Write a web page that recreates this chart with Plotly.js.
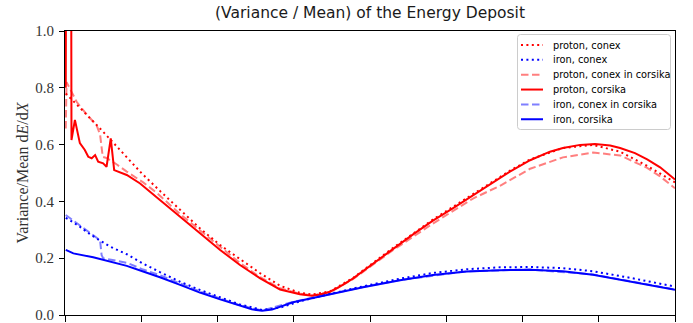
<!DOCTYPE html>
<html>
<head>
<meta charset="utf-8">
<script src="https://cdn.plot.ly/plotly-3.0.1.min.js"></script>
<style>
  html, body { margin: 0; padding: 0; background: #fff; }
  #chart { width: 693px; height: 323px; }
</style>
</head>
<body>
<div id="chart"></div>
<script>
// Slant depth X (g/cm^2) and variance/mean of dE/dX for each simulation setup.

const depthProtonConex = [2, 9, 39, 96, 149, 201, 249, 302, 354, 407, 459, 512, 564, 616, 648, 695, 755, 860, 965, 1070, 1167, 1220, 1306, 1385, 1456, 1527, 1600];
const ratioProtonConex = [0.780, 0.771, 0.730, 0.651, 0.575, 0.499, 0.437, 0.370, 0.305, 0.246, 0.196, 0.147, 0.103, 0.078, 0.072, 0.083, 0.130, 0.236, 0.336, 0.424, 0.508, 0.548, 0.588, 0.599, 0.575, 0.525, 0.467];

const depthIronConex = [2, 9, 39, 66, 92, 118, 162, 205, 249, 302, 354, 407, 459, 517, 564, 616, 687, 782, 879, 965, 1054, 1141, 1220, 1306, 1385, 1482, 1600];
const ratioIronConex = [0.342, 0.337, 0.311, 0.284, 0.262, 0.241, 0.214, 0.181, 0.151, 0.117, 0.088, 0.062, 0.037, 0.018, 0.026, 0.048, 0.072, 0.101, 0.128, 0.148, 0.161, 0.168, 0.169, 0.165, 0.154, 0.131, 0.100];

const depthProtonConexInCorsika = [2, 4, 31, 57, 83, 92, 99, 109, 136, 162, 205, 241, 302, 354, 407, 459, 512, 564, 616, 648, 695, 755, 860, 965, 1070, 1141, 1220, 1306, 1385, 1456, 1527, 1561, 1600];
const ratioProtonConexInCorsika = [0.657, 0.820, 0.750, 0.706, 0.668, 0.636, 0.557, 0.553, 0.530, 0.505, 0.467, 0.430, 0.355, 0.297, 0.238, 0.183, 0.133, 0.094, 0.075, 0.069, 0.080, 0.126, 0.228, 0.322, 0.410, 0.455, 0.515, 0.555, 0.572, 0.562, 0.518, 0.488, 0.446];

const depthProtonCorsika = [2, 10, 17, 26, 39, 52, 61, 70, 79, 87, 100, 109, 120, 129, 162, 197, 249, 302, 354, 407, 459, 512, 564, 616, 648, 669, 695, 721, 755, 808, 860, 913, 965, 1018, 1070, 1115, 1167, 1220, 1272, 1306, 1351, 1390, 1430, 1456, 1495, 1527, 1561, 1600];
const ratioProtonCorsika = [0.800, 6.000, 0.616, 0.687, 0.605, 0.581, 0.557, 0.552, 0.563, 0.540, 0.534, 0.522, 0.622, 0.510, 0.493, 0.463, 0.405, 0.346, 0.288, 0.229, 0.176, 0.129, 0.090, 0.073, 0.068, 0.072, 0.082, 0.100, 0.128, 0.182, 0.232, 0.284, 0.332, 0.376, 0.420, 0.458, 0.505, 0.545, 0.575, 0.588, 0.599, 0.602, 0.597, 0.588, 0.570, 0.548, 0.520, 0.477];

const depthIronConexInCorsika = [2, 39, 92, 96, 100, 162, 205, 249, 302, 354, 407, 459, 517, 598, 687, 782, 879, 1054, 1220, 1385, 1482, 1600];
const ratioIronConexInCorsika = [0.352, 0.316, 0.263, 0.211, 0.200, 0.184, 0.160, 0.140, 0.110, 0.083, 0.058, 0.034, 0.016, 0.046, 0.071, 0.099, 0.123, 0.154, 0.160, 0.143, 0.119, 0.090];

const depthIronCorsika = [2, 22, 74, 118, 162, 205, 249, 302, 354, 407, 459, 490, 517, 543, 598, 643, 687, 734, 782, 879, 965, 1054, 1141, 1220, 1306, 1385, 1482, 1600];
const ratioIronCorsika = [0.229, 0.217, 0.203, 0.188, 0.173, 0.153, 0.133, 0.106, 0.079, 0.055, 0.032, 0.020, 0.015, 0.019, 0.045, 0.058, 0.070, 0.084, 0.098, 0.122, 0.141, 0.153, 0.158, 0.159, 0.154, 0.142, 0.118, 0.089];

const seriesNames = ['proton, conex', 'iron, conex', 'proton, conex in corsika', 'proton, corsika', 'iron, conex in corsika', 'iron, corsika'];
const xTicks = [0, 200, 400, 600, 800, 1000, 1200, 1400, 1600];
const yTicks = [0.0, 0.2, 0.4, 0.6, 0.8, 1.0];

// line styles
const DOT = '2px,3.4px';
const DASH = '7.5px,3.5px';
const RED = '#ff0000', BLUE = '#0000ff';
const RED_A = 'rgba(255,0,0,0.5)', BLUE_A = 'rgba(0,0,255,0.5)';

const styles = [
  {color: RED, dash: DOT},
  {color: BLUE, dash: DOT},
  {color: RED_A, dash: DASH},
  {color: RED, dash: 'solid'},
  {color: BLUE_A, dash: DASH},
  {color: BLUE, dash: 'solid'}
];

const xs = [depthProtonConex, depthIronConex, depthProtonConexInCorsika, depthProtonCorsika, depthIronConexInCorsika, depthIronCorsika];
const ys = [ratioProtonConex, ratioIronConex, ratioProtonConexInCorsika, ratioProtonCorsika, ratioIronConexInCorsika, ratioIronCorsika];

const traces = seriesNames.map((name, i) => ({
  type: 'scatter',
  mode: 'lines',
  name: name,
  x: xs[i],
  y: ys[i],
  line: {color: styles[i].color, dash: styles[i].dash, width: 2},
  showlegend: false,
  hoverinfo: 'skip'
}));

// plot-area geometry (pixels) used for the hand-built legend box
const W = 693, H = 323;
const M = {l: 65, r: 18, t: 31, b: 8};
const PW = W - M.l - M.r, PH = H - M.t - M.b;
const px = v => (v - M.l) / PW;           // pixel x -> paper x
const py = v => (H - M.b - v) / PH;       // pixel y -> paper y

function roundedBox(x0, y0, x1, y1, r) {
  const rx = r / PW, ry = r / PH;
  const X0 = px(x0), X1 = px(x1), Y0 = py(y0), Y1 = py(y1); // Y0 top, Y1 bottom
  return `M ${X0 + rx},${Y0} L ${X1 - rx},${Y0} Q ${X1},${Y0} ${X1},${Y0 - ry} ` +
         `L ${X1},${Y1 + ry} Q ${X1},${Y1} ${X1 - rx},${Y1} L ${X0 + rx},${Y1} ` +
         `Q ${X0},${Y1} ${X0},${Y1 + ry} L ${X0},${Y0 - ry} Q ${X0},${Y0} ${X0 + rx},${Y0} Z`;
}

const shapes = [{
  type: 'path', xref: 'paper', yref: 'paper', layer: 'above',
  path: roundedBox(517.5, 34.5, 670.5, 129.5, 3),
  fillcolor: 'rgba(255,255,255,0.8)',
  line: {color: '#cccccc', width: 1}
}];
const annotations = [];
const rowY0 = 45, rowStep = 14.85;
seriesNames.forEach((name, i) => {
  const yy = py(rowY0 + i * rowStep);
  shapes.push({
    type: 'line', xref: 'paper', yref: 'paper', layer: 'above',
    x0: px(521), x1: px(543), y0: yy, y1: yy,
    line: {color: styles[i].color, dash: styles[i].dash, width: 2}
  });
  annotations.push({
    xref: 'paper', yref: 'paper', x: px(550.5), y: yy,
    xanchor: 'left', yanchor: 'middle', showarrow: false,
    text: name,
    font: {family: 'DejaVu Sans', size: 9.8, color: '#000'}
  });
});

const layout = {
  width: W, height: H,
  margin: {l: M.l, r: M.r, t: M.t, b: M.b, pad: 0},
  paper_bgcolor: '#fff', plot_bgcolor: '#fff',
  title: {
    text: '(Variance / Mean) of the Energy Deposit',
    font: {family: 'DejaVu Sans', size: 15.5, color: '#1a1a1a'},
    x: 0.5, xref: 'paper', xanchor: 'center',
    y: 1 - 12.5 / H, yref: 'container', yanchor: 'middle'
  },
  xaxis: {
    range: [xTicks[0], xTicks[xTicks.length - 1]],
    tickmode: 'array', tickvals: xTicks, showticklabels: false,
    ticks: 'outside', ticklen: 6, tickwidth: 1, tickcolor: '#000',
    showline: true, linecolor: '#000', linewidth: 1, mirror: true,
    showgrid: false, zeroline: false, fixedrange: true
  },
  yaxis: {
    range: [yTicks[0], yTicks[yTicks.length - 1]],
    tickmode: 'array', tickvals: yTicks, tickformat: '.1f',
    ticks: 'outside', ticklen: 5, tickwidth: 1, tickcolor: '#000',
    tickfont: {family: 'Liberation Serif', size: 15, color: '#333'},
    ticklabelstandoff: 2,
    ticklabeloverflow: 'allow',
    showline: true, linecolor: '#000', linewidth: 1, mirror: true,
    showgrid: false, zeroline: false, fixedrange: true,
    title: {
      text: 'Variance/Mean d<i>E</i>/d<i>X</i>',
      font: {family: 'Liberation Serif', size: 16, color: '#333'},
      standoff: 2
    }
  },
  showlegend: false,
  shapes: shapes,
  annotations: annotations
};

Plotly.newPlot('chart', traces, layout, {staticPlot: true, displayModeBar: false});
</script>
</body>
</html>
